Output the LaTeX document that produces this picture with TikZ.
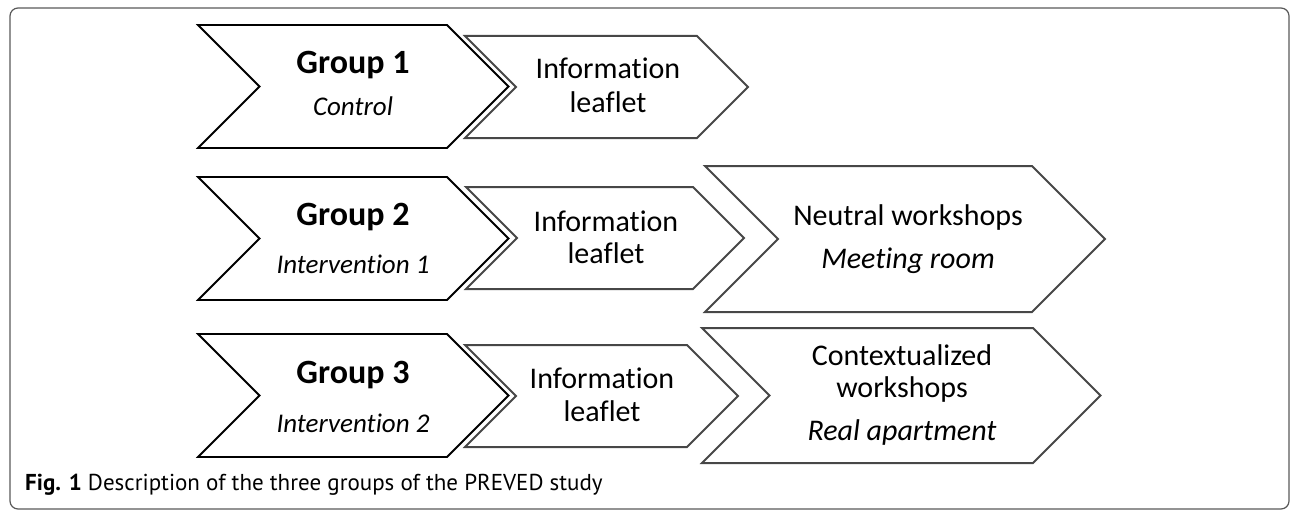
\documentclass[tikz,border=0pt]{standalone}
\usepackage{fontspec}
\setmainfont{Carlito}[Ligatures=NoCommon]
\newfontfamily\capfont{PT Sans}
\begin{document}
\begin{tikzpicture}[x=1pt,y=-1pt,
  grpline/.style={draw=black,line width=1.8pt,line join=miter,fill=white},
  subline/.style={draw=black!72,line width=2pt,line join=miter,fill=white},
  lbl/.style={anchor=base,inner sep=0pt,outer sep=0pt},
  grptitle/.style={lbl,font=\fontsize{34}{38}\selectfont\bfseries},
  grpsub/.style={lbl,font=\fontsize{27}{31}\selectfont\itshape},
  txt/.style={lbl,font=\fontsize{30}{34}\selectfont},
  itxt/.style={lbl,font=\fontsize{30}{34}\selectfont\itshape},
  frame/.style={draw=black!65,line width=1.2pt,rounded corners=8pt}]
\useasboundingbox (0,0) rectangle (1292,511);
\draw[frame] (10,8) rectangle (1289,509);
% chevron: #1 style, #2 x0, #3 x1 (top right), #4 ytop, #5 ybot
\newcommand\chev[5]{%
  \pgfmathsetmacro\hh{(#5-#4)/2}%
  \pgfmathsetmacro\yc{(#5+#4)/2}%
  \draw[#1] (#2,#4) -- (#3,#4) -- (#3+\hh,\yc) -- (#3,#5) -- (#2,#5) -- (#2+\hh,\yc) -- cycle;}
% Row 1
\chev{grpline}{198}{447}{25}{148}
\chev{subline}{465}{697}{36}{138}
% Row 2
\chev{grpline}{198}{447}{177}{300}
\chev{subline}{466}{693}{187}{289}
\chev{subline}{705}{1032}{166}{312}
% Row 3
\chev{grpline}{198}{447}{334}{457}
\chev{subline}{465}{687}{345}{447}
\chev{subline}{702}{1033}{328}{463}
% texts row 1
\node[grptitle] (g1t) at (353,74) {Group 1};
\node[grpsub] (g1s) at (353,115) {Control};
\node[txt] (i1a) at (608,78) {Information};
\node[txt] (i1b) at (608,112) {leaflet};
% row 2
\node[grptitle] (g2t) at (353,225) {Group 2};
\node[grpsub] (g2s) at (353,273) {Intervention 1};
\node[txt] (i2a) at (606,231) {Information};
\node[txt] (i2b) at (606,263) {leaflet};
\node[txt] (n2a) at (908,225) {Neutral workshops};
\node[itxt] (n2b) at (908,268) {Meeting room};
% row 3
\node[grptitle] (g3t) at (353,383) {Group 3};
\node[grpsub] (g3s) at (353,432) {Intervention 2};
\node[txt] (i3a) at (602,388) {Information};
\node[txt] (i3b) at (602,421) {leaflet};
\node[txt] (c3a) at (902,365) {Contextualized};
\node[txt] (c3b) at (902,397) {workshops};
\node[itxt] (c3c) at (902,440) {Real apartment};
% caption
\node[anchor=base west,inner sep=0pt,font=\capfont\fontsize{23}{26}\selectfont] (cap) at (25,490)
  {\textbf{Fig. 1} Description of the three groups of the PREVED study};
\end{tikzpicture}
\end{document}
